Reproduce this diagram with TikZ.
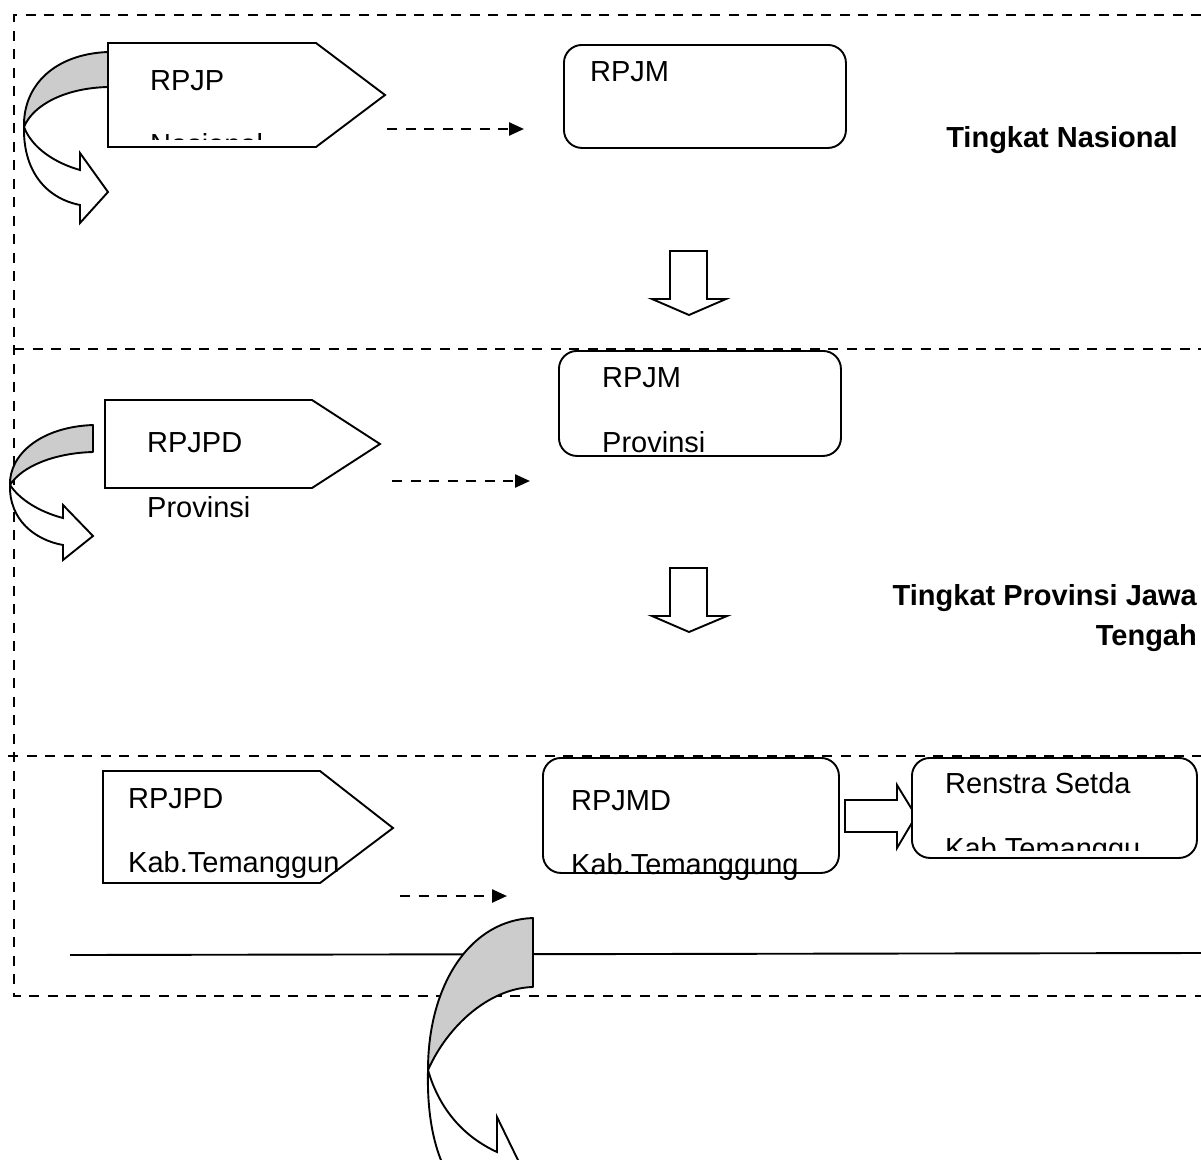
\documentclass[tikz,border=0pt]{standalone}
\usepackage{fontspec}
\setmainfont{Liberation Sans}
\usetikzlibrary{arrows.meta}
\begin{document}
\begin{tikzpicture}[x=1pt,y=-1pt,
  dline/.style={line width=2.4pt, dash pattern=on 10pt off 8.5pt},
  shp/.style={draw, line width=1.9pt, fill=white, line join=miter},
  rbox/.style={draw, line width=1.9pt, rounded corners=18pt, fill=white, inner sep=0pt, anchor=north west},
  lbl/.style={anchor=base west, inner sep=0pt, font=\fontsize{29}{34}\selectfont},
  blbl/.style={anchor=base east, inner sep=0pt, font=\fontsize{29}{34}\selectfont\bfseries},
  darrow/.style={line width=2.4pt, dash pattern=on 10pt off 8.5pt, -{Triangle[length=15pt,width=13pt]}},
  grayband/.style={draw, line width=1.9pt, fill=black!20, line join=round},
  whiteband/.style={draw, line width=1.9pt, fill=white, line join=miter},
]
\clip (0,0) rectangle (1201,1159);
\fill[white] (0,0) rectangle (1201,1159);

% frame lines
\draw[dline] (1201,15) -- (14,15) -- (14,996) -- (1201,996);
\draw[dline] (14,349) -- (1201,349);
\draw[dline] (8,756) -- (1201,756);
\draw[line width=1.9pt] (70,955) -- (1201,953);

% ---------- national level ----------
\draw[shp] (108,43) -- (316,43) -- (385,95) -- (316,147) -- (108,147) -- cycle;
\coordinate (p1tip) at (385,95);
\node[lbl] (t1a) at (150,90) {RPJP};
\begin{scope}
  \clip (108,43) rectangle (316,139);
  \node[lbl] (t1b) at (150,154) {Nasional};
\end{scope}
% curved arrow 1
\draw[grayband] (108,52) -- (108,87) .. controls (65,88) and (33,105) .. (24,127)
  .. controls (23,85) and (55,54) .. (108,52) -- cycle;
\draw[whiteband] (24,127) .. controls (23,170) and (45,198) .. (80,205) -- (80,223) -- (108,192)
  -- (80,153) -- (80,170) .. controls (55,163) and (32,148) .. (24,127) -- cycle;

\node[rbox, minimum width=282pt, minimum height=103pt] (rpjm) at (563,44) {};
\node[lbl] (t2) at (590,81) {RPJM};

\coordinate (d1s) at (387,129);
\coordinate (d1e) at (524,129);
\draw[darrow] (d1s) -- (d1e);

\node[blbl] (lvl1) at (1178,147) {Tingkat Nasional};

\draw[shp] (670,251) -- (707,251) -- (707,299) -- (726,299) -- (689,315) -- (652,299) -- (670,299) -- cycle;

% ---------- province level ----------
\draw[shp] (105,400) -- (312,400) -- (380,444) -- (312,488) -- (105,488) -- cycle;
\node[lbl] (t3a) at (147,452) {RPJPD};
\node[lbl] (t3b) at (147,517) {Provinsi};
\draw[grayband] (93,425) -- (93,452) .. controls (55,453) and (22,466) .. (10,485)
  .. controls (9,455) and (40,427) .. (93,425) -- cycle;
\draw[whiteband] (10,485) .. controls (9,520) and (35,540) .. (63,545) -- (63,560) -- (93,536)
  -- (63,505) -- (63,518) .. controls (40,512) and (20,500) .. (10,485) -- cycle;

\node[rbox, minimum width=282pt, minimum height=105pt] (rpjmp) at (558,350) {};
\node[lbl] (t4a) at (602,387) {RPJM};
\node[lbl] (t4b) at (602,452) {Provinsi};

\coordinate (d2s) at (392,481);
\coordinate (d2e) at (530,481);
\draw[darrow] (d2s) -- (d2e);

\draw[shp] (670,568) -- (707,568) -- (707,616) -- (727,616) -- (689,632) -- (652,616) -- (670,616) -- cycle;

\node[blbl] (lvl2a) at (1197,605) {Tingkat Provinsi Jawa};
\node[blbl] (lvl2b) at (1197,645) {Tengah};

% ---------- regency level ----------
\draw[shp] (103,771) -- (320,771) -- (393,828) -- (320,883) -- (103,883) -- cycle;
\node[lbl] (t5a) at (128,808) {RPJPD};
\node[lbl] (t5b) at (128,872) {Kab.Temanggun};

\node[rbox, minimum width=296pt, minimum height=115pt] (rpjmd) at (542,757) {};
\node[lbl] (t6a) at (571,810) {RPJMD};
\node[lbl] (t6b) at (571,874) {Kab.Temanggung};

\draw[shp] (845,800) -- (897,800) -- (897,785) -- (916,816) -- (897,848) -- (897,832) -- (845,832) -- cycle;

\node[rbox, minimum width=285pt, minimum height=100pt] (renstra) at (911,757) {};
\node[lbl] (t7a) at (945,793) {Renstra Setda};
\begin{scope}
  \clip (911,757) rectangle (1196,850);
  \node[lbl] (t7b) at (945,858) {Kab.Temanggu};
\end{scope}

\coordinate (d3s) at (400,896);
\coordinate (d3e) at (507,896);
\draw[darrow] (d3s) -- (d3e);

% big curved arrow
\draw[grayband] (533,918) -- (533,987) .. controls (490,988) and (448,1025) .. (428,1070)
  .. controls (428,985) and (470,920) .. (533,918) -- cycle;
\draw[whiteband] (428,1070) .. controls (426,1150) and (450,1200) .. (497,1220) -- (497,1273)
  -- (535,1195) -- (497,1117) -- (497,1152) .. controls (460,1135) and (438,1105) .. (428,1070) -- cycle;
\end{tikzpicture}
\end{document}
